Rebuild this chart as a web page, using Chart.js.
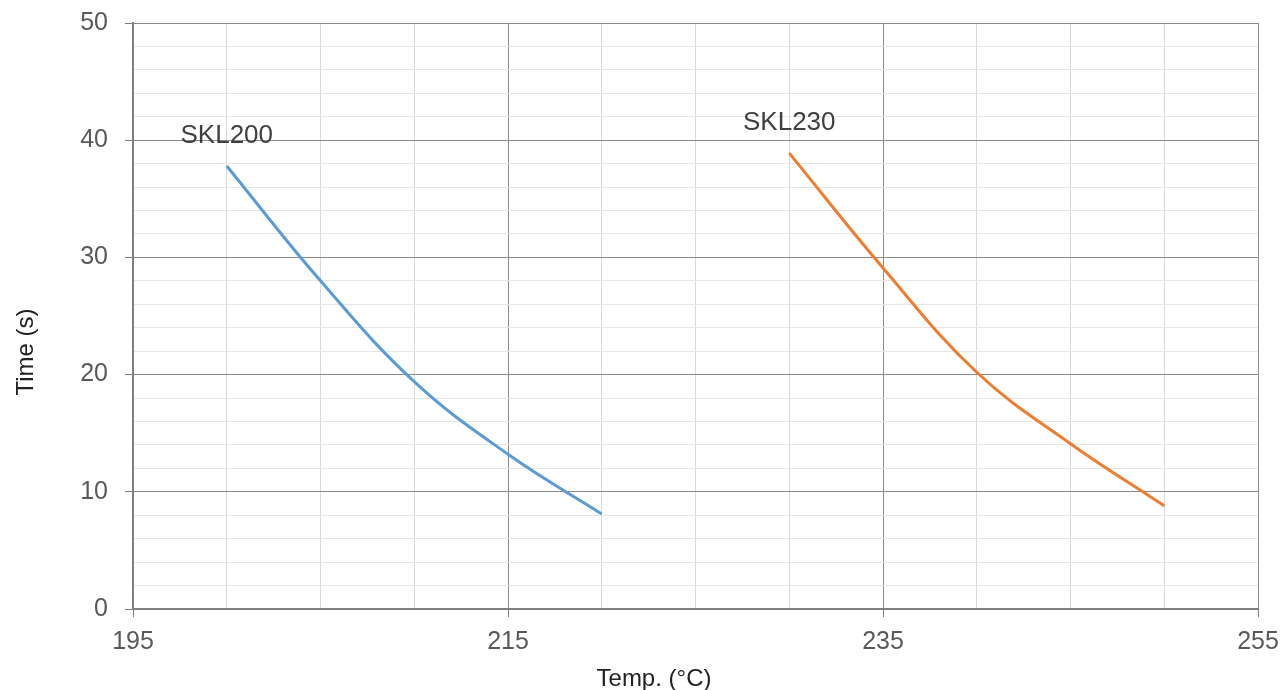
<!DOCTYPE html>
<html>
<head>
<meta charset="utf-8">
<script src="https://cdn.jsdelivr.net/npm/chart.js@4.4.1/dist/chart.umd.min.js"></script>
<style>
  html, body { margin: 0; padding: 0; background: #fff; }
  #wrap { width: 1283px; height: 690px; position: relative; }
</style>
</head>
<body>
<div id="wrap"><canvas id="chart"></canvas></div>
<script>
// Temperature vs time, two grades
const skl200Temp = [200, 205, 210, 215, 220];
const skl200Time = [37.8, 28.0, 19.4, 13.2, 8.1];
const skl230Temp = [230, 235, 240, 245, 250];
const skl230Time = [38.9, 29.1, 20.2, 14.1, 8.8];
const seriesNames = ['SKL200', 'SKL230'];
const xTitle = 'Temp. (°C)';
const yTitle = 'Time (s)';

const FONT = "'Liberation Sans', Arial, sans-serif";
const MAJOR = '#8a8a8a';
const AXIS = '#7f7f7f';

const toPoints = (xs, ys) => xs.map((x, i) => ({x, y: ys[i]}));

// series name above the first point + axis titles
const labelPlugin = {
  id: 'labels',
  afterDatasetsDraw(chart) {
    const ctx = chart.ctx;
    ctx.save();
    ctx.font = '26px ' + FONT;
    ctx.fillStyle = '#404040';
    ctx.textAlign = 'center';
    ctx.textBaseline = 'alphabetic';
    chart.data.datasets.forEach((ds, i) => {
      const pt = chart.getDatasetMeta(i).data[0];
      if (pt) ctx.fillText(ds.label, pt.x, pt.y - 23);
    });

    ctx.font = '24px ' + FONT;
    ctx.fillStyle = '#222';
    ctx.fillText(xTitle, 654, 686);
    ctx.translate(33, 352);
    ctx.rotate(-Math.PI / 2);
    ctx.fillText(yTitle, 0, 0);
    ctx.restore();
  }
};

new Chart(document.getElementById('chart').getContext('2d'), {
  type: 'line',
  data: {
    datasets: [
      {
        label: seriesNames[0],
        data: toPoints(skl200Temp, skl200Time),
        borderColor: '#5b9bd5',
        borderWidth: 3,
        pointRadius: 0,
        tension: 0.4,
        fill: false
      },
      {
        label: seriesNames[1],
        data: toPoints(skl230Temp, skl230Time),
        borderColor: '#ed7d31',
        borderWidth: 3,
        pointRadius: 0,
        tension: 0.4,
        fill: false
      }
    ]
  },
  options: {
    responsive: true, maintainAspectRatio: false,
    animation: false,
    layout: {padding: {top: 23, right: 25, left: 0, bottom: 0}},
    plugins: {legend: {display: false}, tooltip: {enabled: false}},
    scales: {
      x: {
        type: 'linear', min: 195, max: 255,
        afterFit: s => { s.height = 81; s.paddingLeft = 0; s.paddingRight = 0; },
        ticks: {
          stepSize: 5, color: '#595959', padding: 10,
          font: {family: FONT, size: 25},
          maxRotation: 0, autoSkip: false,
          callback: v => ((v - 195) % 20 === 0 ? String(v) : '')
        },
        grid: {
          color: c => ((c.tick && (c.tick.value - 195) % 20 === 0) ? MAJOR : '#d9d9d9'),
          tickColor: c => ((c.tick && (c.tick.value - 195) % 20 === 0) ? AXIS : 'rgba(0,0,0,0)'),
          tickLength: 8, lineWidth: 1
        },
        border: {color: AXIS, width: 2}
      },
      y: {
        type: 'linear', min: 0, max: 50,
        afterFit: s => { s.width = 133; s.paddingTop = 0; s.paddingBottom = 0; },
        ticks: {
          stepSize: 2, color: '#595959', padding: 17,
          font: {family: FONT, size: 25},
          autoSkip: false,
          callback: v => (v % 10 === 0 ? String(v) : '')
        },
        grid: {
          color: c => ((c.tick && c.tick.value % 10 === 0) ? MAJOR : '#e6e6e6'),
          tickColor: c => ((c.tick && c.tick.value % 10 === 0) ? AXIS : 'rgba(0,0,0,0)'),
          tickLength: 8, lineWidth: 1
        },
        border: {color: AXIS, width: 2}
      }
    }
  },
  plugins: [labelPlugin]
});
</script>
</body>
</html>
